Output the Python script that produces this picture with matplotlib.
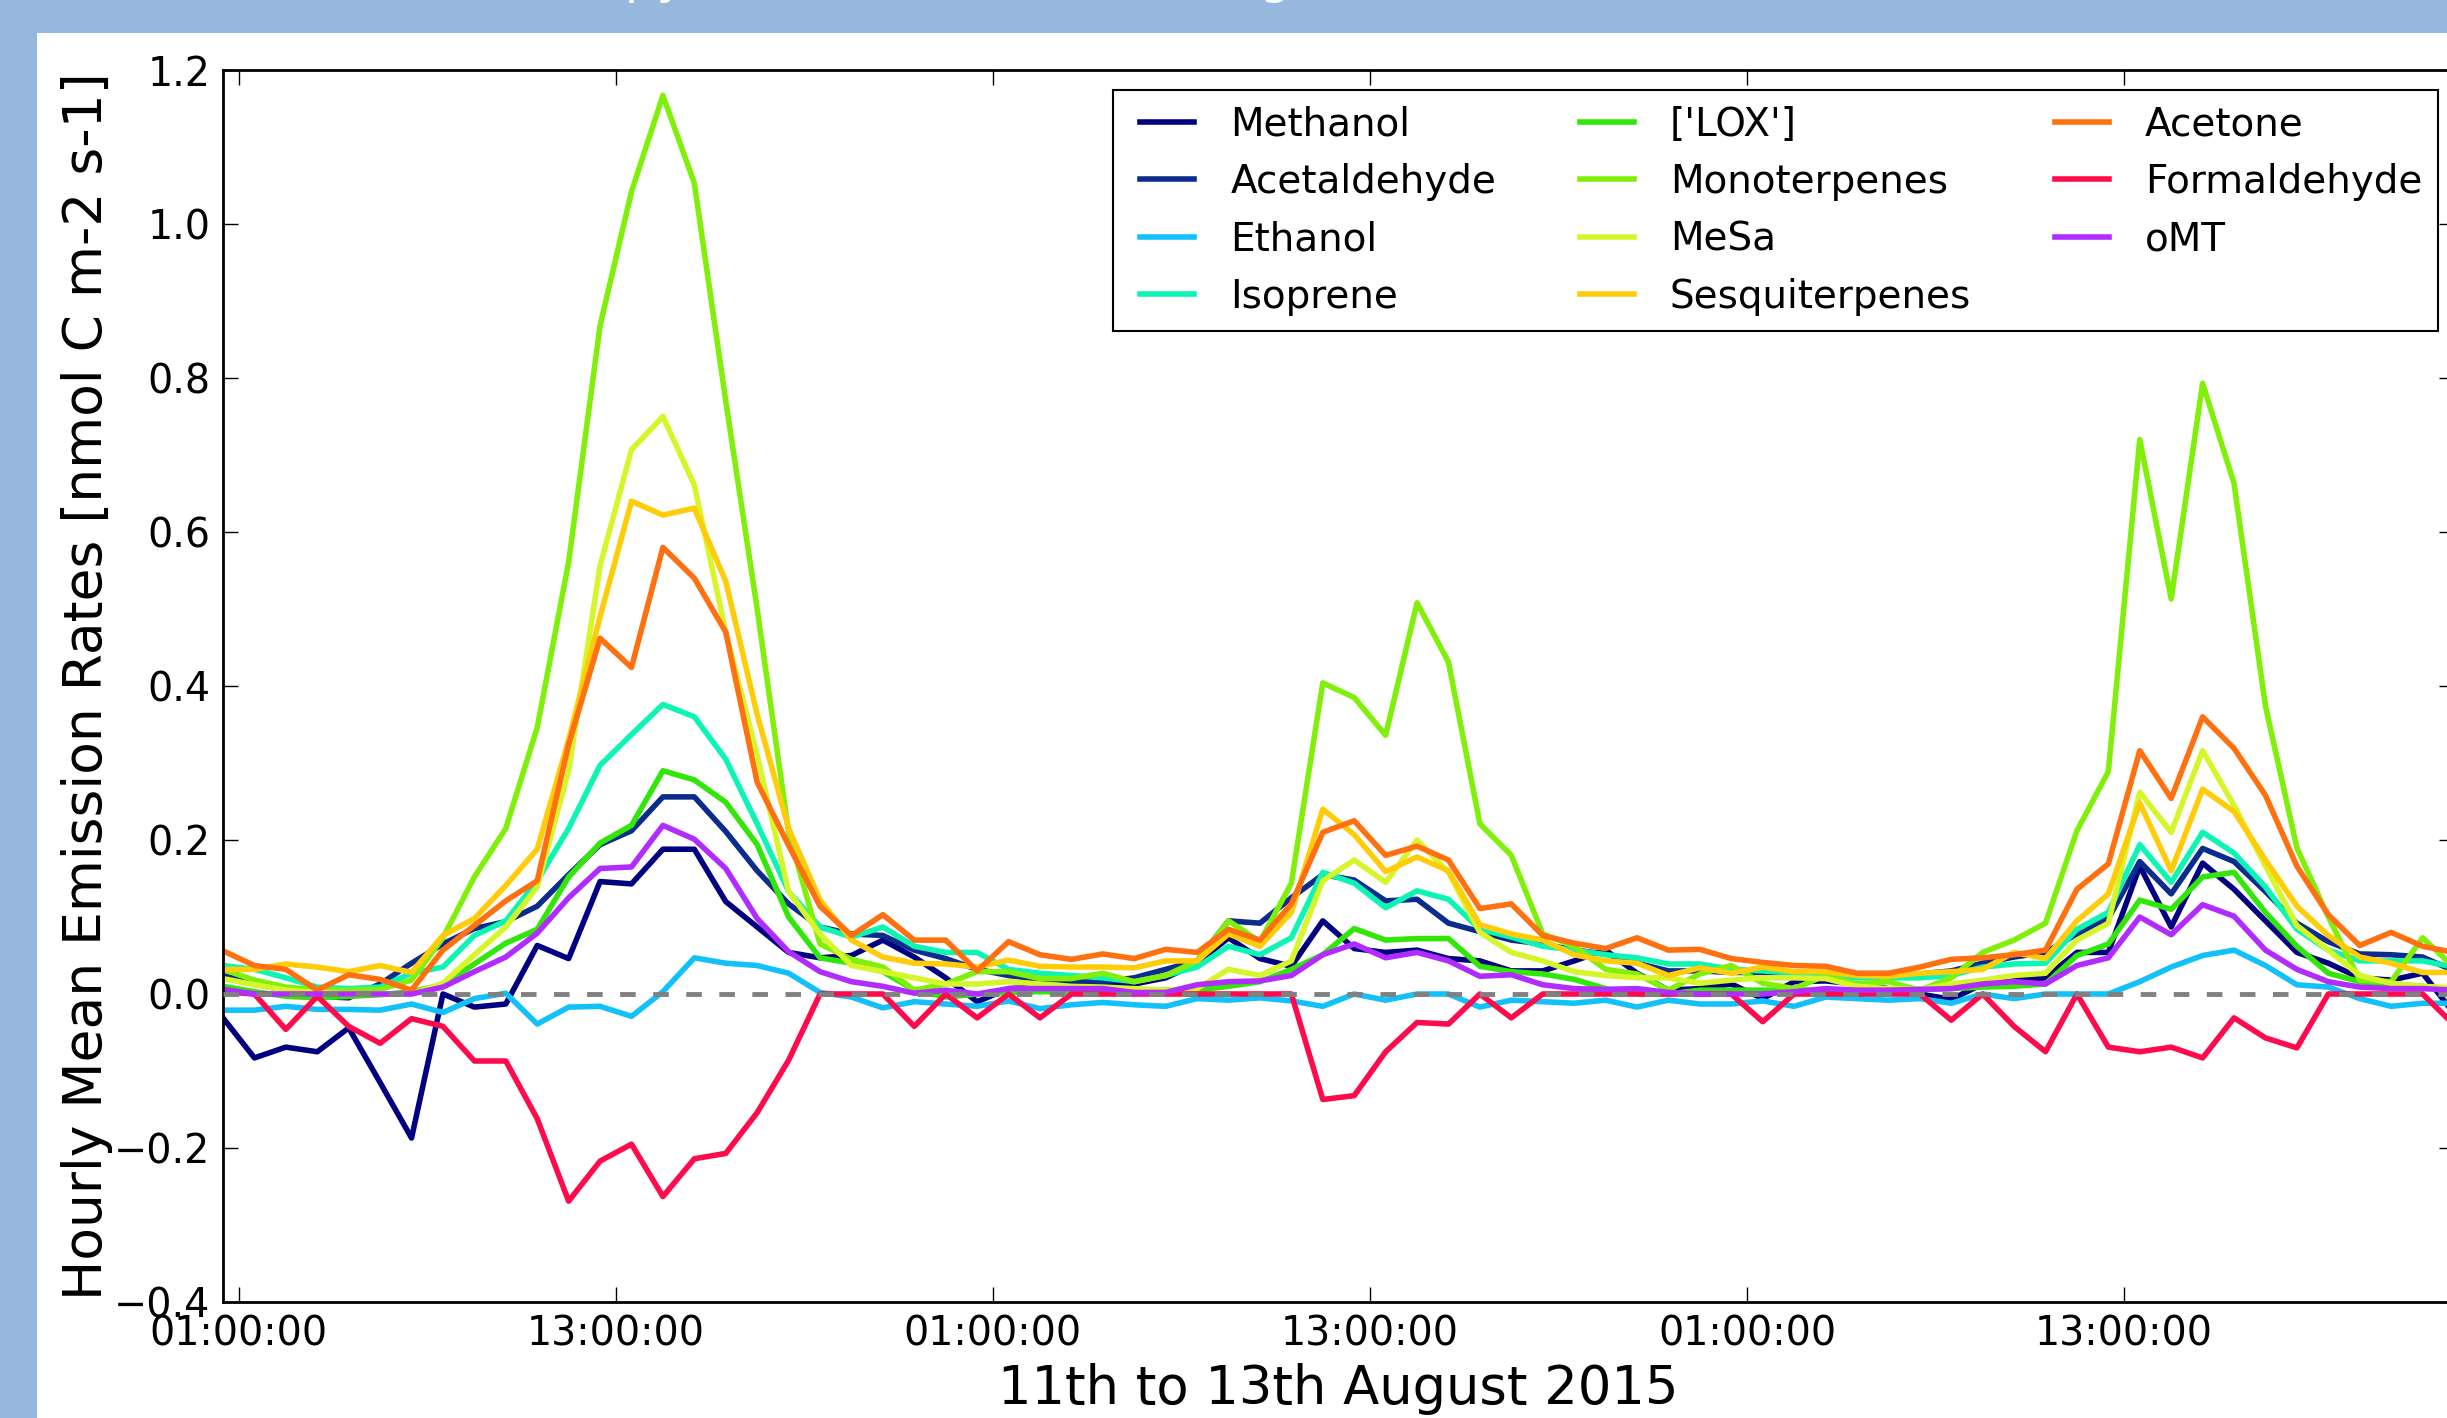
import numpy as np
import pandas as pd
import matplotlib
matplotlib.use("Agg")
import matplotlib.pyplot as plt
import matplotlib.dates as mdates
from matplotlib.patches import Rectangle
from matplotlib.lines import Line2D
from matplotlib.legend_handler import HandlerLine2D

# hourly means, 11-13 Aug 2015 (half-past each hour)
times = pd.date_range("2015-08-11 00:30", periods=72, freq="h")

methanol = [-0.031, -0.083, -0.069, -0.075, -0.044, -0.115, -0.187, 0.0, -0.017, -0.013, 0.063, 0.046,
            0.146, 0.143, 0.188, 0.188, 0.12, 0.087, 0.054, 0.047, 0.05, 0.07, 0.048, 0.021,
            -0.01, 0.007, 0.009, 0.013, 0.013, 0.013, 0.021, 0.04, 0.073, 0.046, 0.036, 0.095,
            0.059, 0.054, 0.057, 0.046, 0.043, 0.03, 0.03, 0.043, 0.057, 0.027, 0.005, 0.007,
            0.013, -0.006, 0.016, 0.017, 0.013, 0.007, 0.0, -0.007, 0.013, 0.018, 0.021, 0.054,
            0.054, 0.166, 0.087, 0.17, 0.136, 0.095, 0.054, 0.04, 0.021, 0.018, 0.027, -0.025]
acetaldehyde = [0.024, 0.013, 0.005, -0.003, -0.005, 0.013, 0.04, 0.065, 0.085, 0.094, 0.114, 0.155,
                0.194, 0.212, 0.256, 0.256, 0.211, 0.16, 0.117, 0.087, 0.078, 0.076, 0.057, 0.046,
                0.032, 0.024, 0.019, 0.018, 0.016, 0.021, 0.032, 0.043, 0.095, 0.092, 0.125, 0.155,
                0.148, 0.121, 0.123, 0.092, 0.081, 0.07, 0.065, 0.057, 0.052, 0.04, 0.03, 0.03,
                0.028, 0.028, 0.027, 0.027, 0.025, 0.025, 0.026, 0.03, 0.04, 0.048, 0.054, 0.078,
                0.098, 0.172, 0.13, 0.189, 0.172, 0.133, 0.092, 0.068, 0.052, 0.051, 0.048, 0.03]
ethanol = [-0.021, -0.021, -0.016, -0.02, -0.02, -0.021, -0.013, -0.024, -0.006, 0.001, -0.039, -0.017,
           -0.016, -0.029, 0.003, 0.047, 0.04, 0.037, 0.027, 0.002, -0.004, -0.018, -0.01, -0.013,
           -0.016, -0.009, -0.019, -0.014, -0.011, -0.014, -0.016, -0.006, -0.008, -0.005, -0.009, -0.016,
           0.0, -0.008, 0.0, 0.0, -0.017, -0.008, -0.01, -0.012, -0.008, -0.017, -0.008, -0.013,
           -0.013, -0.009, -0.016, -0.004, -0.006, -0.008, -0.006, -0.012, 0.0, -0.006, 0.0, 0.0,
           0.0, 0.016, 0.035, 0.05, 0.057, 0.037, 0.012, 0.009, -0.006, -0.016, -0.012, -0.012]
isoprene = [0.037, 0.032, 0.021, 0.009, 0.007, 0.009, 0.027, 0.035, 0.076, 0.095, 0.147, 0.215,
            0.297, 0.337, 0.376, 0.36, 0.305, 0.221, 0.133, 0.087, 0.074, 0.087, 0.062, 0.054,
            0.054, 0.032, 0.027, 0.024, 0.021, 0.016, 0.024, 0.035, 0.062, 0.051, 0.073, 0.158,
            0.144, 0.112, 0.134, 0.123, 0.084, 0.074, 0.062, 0.057, 0.051, 0.047, 0.039, 0.039,
            0.032, 0.03, 0.027, 0.024, 0.021, 0.021, 0.021, 0.024, 0.035, 0.039, 0.04, 0.084,
            0.106, 0.194, 0.145, 0.21, 0.183, 0.139, 0.084, 0.057, 0.043, 0.043, 0.043, 0.035]
lox = [0.01, 0.003, -0.003, -0.005, -0.003, -0.001, 0.003, 0.012, 0.039, 0.066, 0.084, 0.152,
       0.196, 0.219, 0.29, 0.278, 0.249, 0.194, 0.1, 0.047, 0.04, 0.029, 0.005, -0.004,
       0.0, 0.002, 0.003, 0.003, 0.004, 0.005, 0.005, 0.005, 0.01, 0.016, 0.032, 0.051,
       0.085, 0.07, 0.072, 0.072, 0.036, 0.029, 0.026, 0.019, 0.007, 0.0, 0.0, 0.005,
       0.005, 0.005, 0.005, 0.005, 0.005, 0.005, 0.006, 0.007, 0.009, 0.01, 0.013, 0.05,
       0.065, 0.122, 0.11, 0.152, 0.158, 0.106, 0.062, 0.027, 0.016, 0.013, 0.01, 0.002]
monoterpenes = [0.032, 0.018, 0.009, 0.005, 0.005, 0.006, 0.018, 0.073, 0.152, 0.215, 0.346, 0.561,
                0.868, 1.042, 1.167, 1.053, 0.77, 0.5, 0.21, 0.065, 0.045, 0.035, 0.005, 0.013,
                0.029, 0.029, 0.02, 0.02, 0.027, 0.016, 0.024, 0.043, 0.095, 0.068, 0.144, 0.404,
                0.385, 0.336, 0.508, 0.431, 0.221, 0.18, 0.078, 0.062, 0.032, 0.026, 0.005, 0.026,
                0.037, 0.014, 0.007, 0.024, 0.013, 0.016, 0.005, 0.021, 0.054, 0.07, 0.092, 0.212,
                0.289, 0.72, 0.513, 0.793, 0.663, 0.374, 0.19, 0.1, 0.018, 0.016, 0.073, 0.035]
mesa = [0.02, 0.012, 0.005, 0.002, 0.0, 0.0, 0.0, 0.014, 0.051, 0.087, 0.139, 0.29,
        0.556, 0.707, 0.75, 0.661, 0.47, 0.31, 0.133, 0.078, 0.037, 0.029, 0.021, 0.013,
        0.013, 0.016, 0.013, 0.01, 0.009, 0.007, 0.005, 0.007, 0.032, 0.024, 0.043, 0.147,
        0.174, 0.145, 0.2, 0.158, 0.08, 0.054, 0.043, 0.029, 0.024, 0.021, 0.021, 0.014,
        0.018, 0.021, 0.021, 0.02, 0.01, 0.007, 0.006, 0.013, 0.018, 0.024, 0.027, 0.07,
        0.092, 0.262, 0.21, 0.316, 0.245, 0.166, 0.089, 0.057, 0.024, 0.014, 0.01, 0.008]
sesquiterpenes = [0.032, 0.032, 0.039, 0.035, 0.029, 0.037, 0.028, 0.076, 0.098, 0.141, 0.188, 0.33,
                  0.49, 0.64, 0.622, 0.631, 0.536, 0.363, 0.215, 0.122, 0.07, 0.048, 0.04, 0.039,
                  0.035, 0.044, 0.036, 0.035, 0.035, 0.034, 0.043, 0.043, 0.078, 0.062, 0.106, 0.24,
                  0.207, 0.159, 0.178, 0.16, 0.09, 0.078, 0.07, 0.051, 0.043, 0.04, 0.024, 0.034,
                  0.027, 0.035, 0.029, 0.029, 0.024, 0.023, 0.027, 0.029, 0.032, 0.054, 0.046, 0.095,
                  0.13, 0.248, 0.16, 0.266, 0.237, 0.174, 0.114, 0.076, 0.048, 0.04, 0.028, 0.028]
acetone = [0.056, 0.037, 0.032, 0.005, 0.025, 0.019, 0.005, 0.057, 0.089, 0.121, 0.147, 0.324,
           0.462, 0.424, 0.58, 0.54, 0.47, 0.275, 0.193, 0.114, 0.076, 0.103, 0.07, 0.07,
           0.03, 0.068, 0.051, 0.045, 0.052, 0.046, 0.058, 0.054, 0.084, 0.07, 0.117, 0.21,
           0.225, 0.18, 0.192, 0.174, 0.111, 0.117, 0.076, 0.066, 0.059, 0.073, 0.057, 0.058,
           0.046, 0.041, 0.037, 0.036, 0.027, 0.027, 0.035, 0.045, 0.047, 0.051, 0.057, 0.136,
           0.169, 0.316, 0.254, 0.36, 0.319, 0.258, 0.166, 0.103, 0.063, 0.08, 0.062, 0.054]
formaldehyde = [0.003, 0.0, -0.046, -0.003, -0.042, -0.064, -0.032, -0.042, -0.087, -0.087, -0.162, -0.269,
                -0.217, -0.195, -0.263, -0.214, -0.207, -0.154, -0.086, 0.0, 0.0, 0.0, -0.042, 0.0,
                -0.031, 0.0, -0.031, 0.0, 0.0, 0.0, 0.0, 0.0, 0.0, 0.0, 0.0, -0.137,
                -0.132, -0.075, -0.037, -0.039, 0.0, -0.031, 0.0, 0.0, 0.0, 0.0, 0.0, 0.0,
                0.0, -0.036, 0.0, 0.0, 0.0, 0.0, 0.0, -0.034, 0.0, -0.042, -0.075, 0.0,
                -0.069, -0.075, -0.069, -0.083, -0.031, -0.057, -0.07, 0.0, 0.0, 0.0, 0.0, -0.04]
omt = [0.006, 0.0, 0.0, 0.0, 0.0, 0.0, 0.0, 0.009, 0.029, 0.048, 0.079, 0.125,
       0.163, 0.165, 0.219, 0.201, 0.163, 0.098, 0.055, 0.029, 0.016, 0.01, 0.001, 0.005,
       0.0, 0.007, 0.007, 0.007, 0.007, 0.002, 0.002, 0.012, 0.016, 0.017, 0.024, 0.051,
       0.065, 0.047, 0.054, 0.043, 0.023, 0.025, 0.012, 0.007, 0.006, 0.007, 0.002, 0.0,
       0.0, 0.0, 0.003, 0.007, 0.005, 0.005, 0.006, 0.007, 0.013, 0.016, 0.013, 0.037,
       0.047, 0.1, 0.077, 0.116, 0.101, 0.057, 0.032, 0.016, 0.009, 0.007, 0.007, 0.005]

names = ["Methanol", "Acetaldehyde", "Ethanol", "Isoprene", "['LOX']", "Monoterpenes",
         "MeSa", "Sesquiterpenes", "Acetone", "Formaldehyde", "oMT"]
series = [methanol, acetaldehyde, ethanol, isoprene, lox, monoterpenes,
          mesa, sesquiterpenes, acetone, formaldehyde, omt]
colors = ["#000080", "#0b2c8c", "#12c0fa", "#0cf5b4", "#33e60a", "#80f00a",
          "#d6f52a", "#ffcc0a", "#ff7010", "#ff0a4c", "#b02cff"]

W, H = 2447, 1418
fig = plt.figure(figsize=(W / 100, H / 100), dpi=100, facecolor="#95b8dc")

# white page area of the screenshot, blue strip on top and left
fig.patches.append(Rectangle((37 / W, 0), 1, (H - 33) / H, transform=fig.transFigure,
                             facecolor="white", edgecolor="none", zorder=-10))
# page heading, mostly cut off at the top of the screenshot
fig.text(497 / W, 1.005, "Canopy Emission Rates (Average values)", color="white",
         fontsize=36, ha="left", va="baseline")

ax = fig.add_axes([223 / W, (H - 1302) / H, (2454 - 223) / W, (1302 - 70) / H])
ax.set_zorder(1)

for name, vals, col in zip(names, series, colors):
    ax.plot(times, vals, color=col, lw=4, label=name)

ax.axhline(0, color="grey", lw=3.5, ls=(0, (3.2, 3.6)), zorder=5)

ax.set_xlim(times[0], times[-1])
ax.set_ylim(-0.4, 1.2)
ax.set_yticks(np.arange(-0.4, 1.21, 0.2))
ax.xaxis.set_major_locator(mdates.HourLocator(byhour=[1, 13]))
ax.xaxis.set_major_formatter(mdates.DateFormatter("%H:%M:%S"))

ax.tick_params(direction="in", length=11, width=1, labelsize=28.5, pad=9,
               top=True, right=True)
for s in ax.spines.values():
    s.set_linewidth(2)

ax.set_xlabel("11th to 13th August 2015", fontsize=38, labelpad=6)
ax.set_ylabel("Hourly Mean Emission Rates [nmol C m-2 s-1]", fontsize=38.5, labelpad=1)

leg = ax.legend(ncol=3, loc="upper right", bbox_to_anchor=(0.9928, 0.9838),
                borderaxespad=0, fontsize=28, labelspacing=0.5, handlelength=1.7,
                handletextpad=0.92, columnspacing=1.85, fancybox=False, framealpha=1,
                handler_map={Line2D: HandlerLine2D(xpad=0.3)})
leg.get_frame().set_edgecolor("black")
leg.get_frame().set_linewidth(1.5)

fig.savefig("out.png", dpi=100, facecolor=fig.get_facecolor())
